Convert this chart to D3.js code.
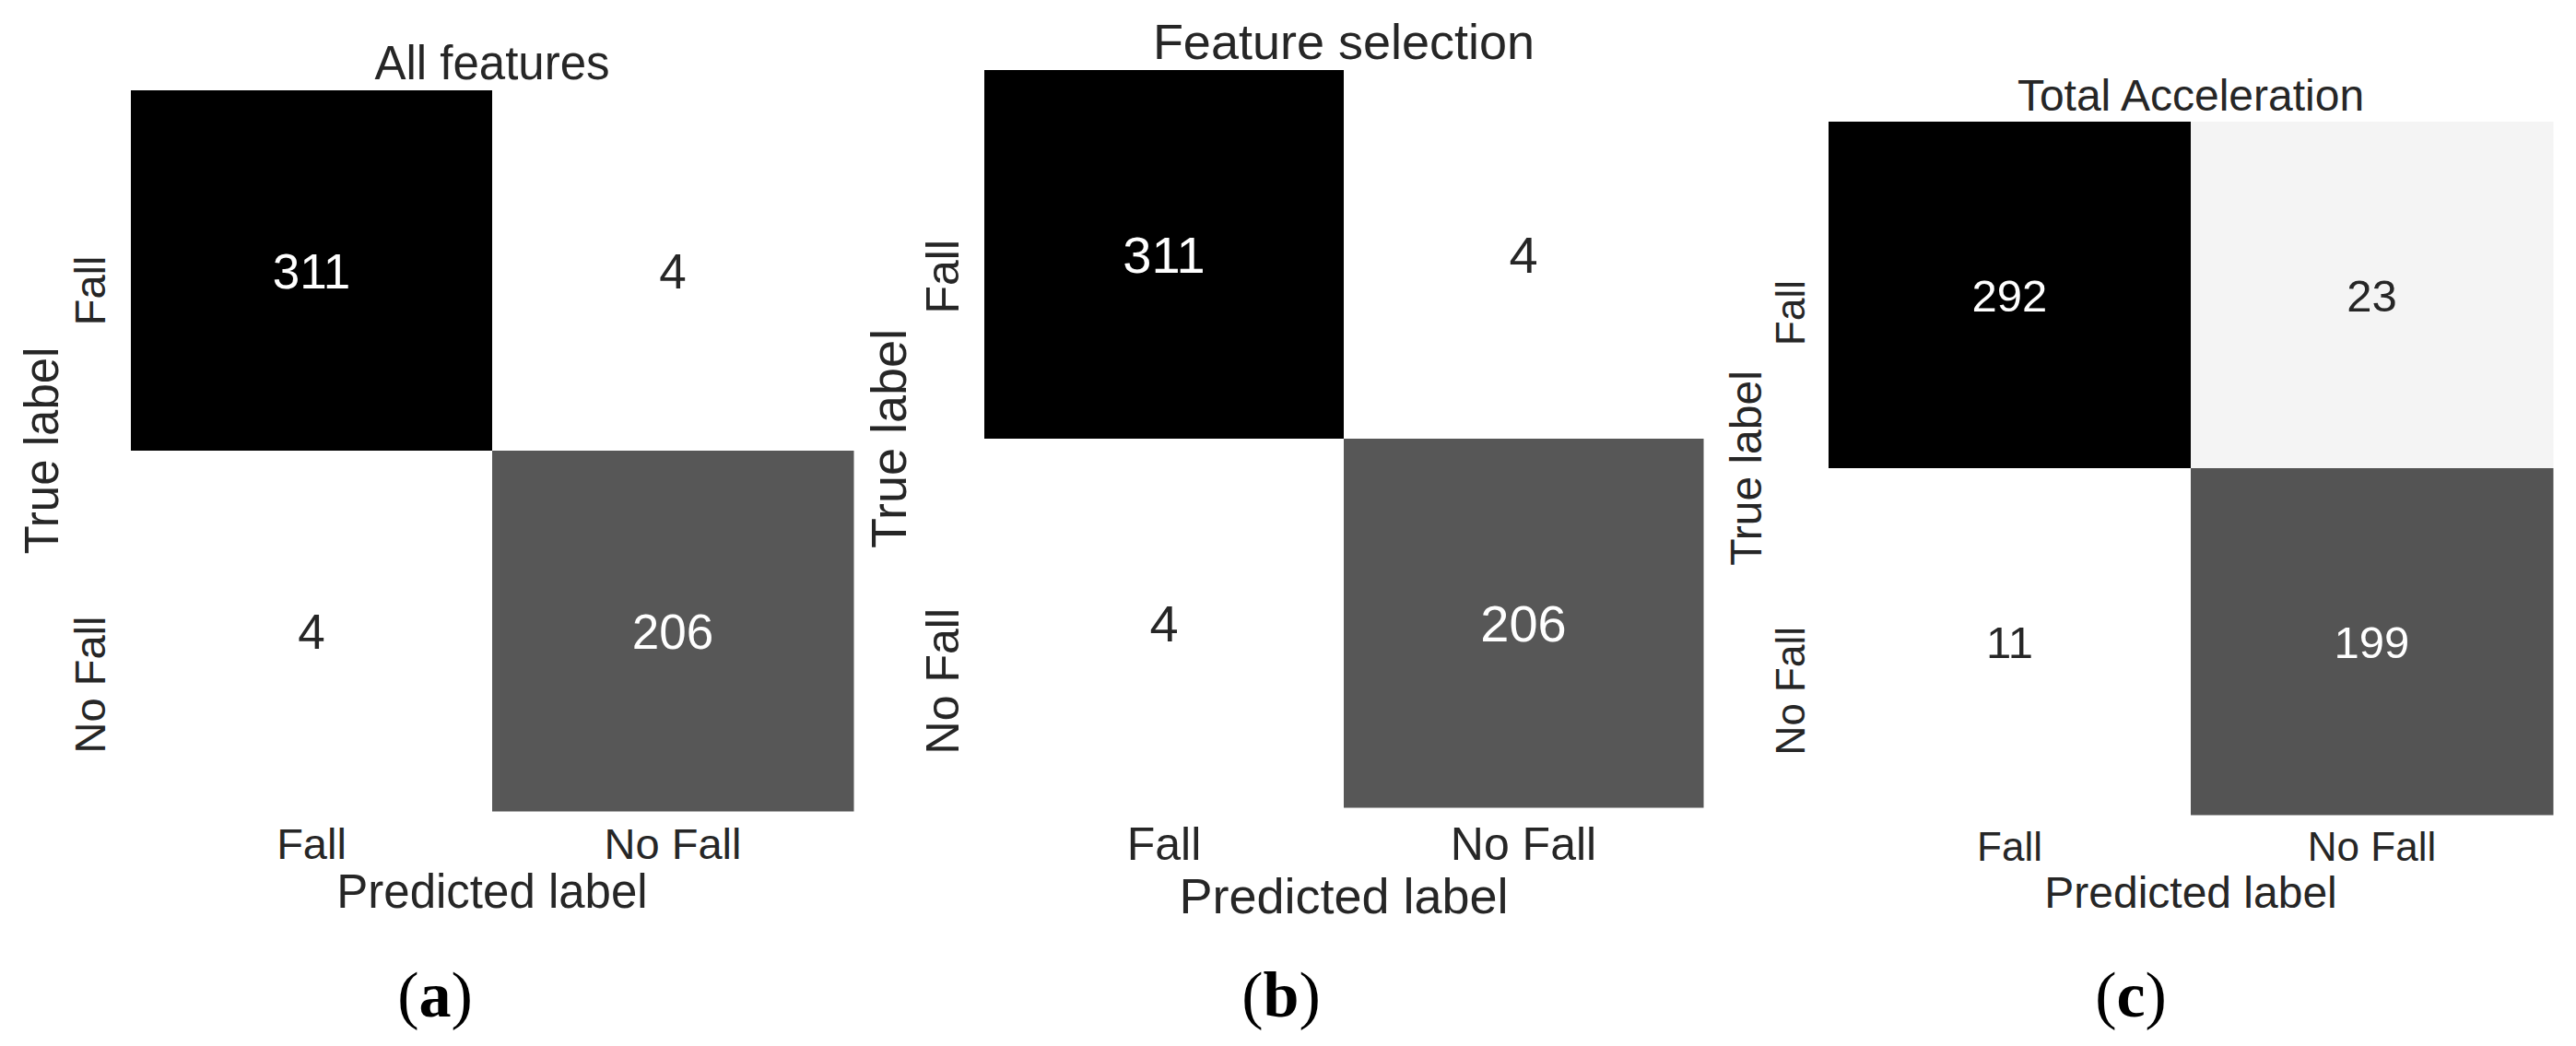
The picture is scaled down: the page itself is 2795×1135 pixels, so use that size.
<!DOCTYPE html>
<html>
<head>
<meta charset="utf-8">
<script src="https://cdn.jsdelivr.net/npm/d3@7"></script>
<style>
  html, body { margin: 0; padding: 0; background: #ffffff; }
  svg { display: block; }
</style>
</head>
<body>
<svg id="chart" width="2795" height="1135"></svg>
<script>
// ---------------- data ----------------
const panelTitles = ["All features", "Feature selection", "Total Acceleration"];
const classLabels = ["Fall", "No Fall"];
const matrixAll = [[311, 4], [4, 206]];
const matrixSelection = [[311, 4], [4, 206]];
const matrixTotalAcc = [[292, 23], [11, 199]];
const captions = ["a", "b", "c"];
const xAxisTitle = "Predicted label";
const yAxisTitle = "True label";

const matrices = [matrixAll, matrixSelection, matrixTotalAcc];

// ---------------- layout (positions / sizes only) ----------------
const layout = [
  {left: 142,  right: 926,  top: 98,  bottom: 880, tick: 47, label: 51, annot: 53,
   titleY: 86,  xtickY: 932, xlabelY: 985, ylabelX: 63,   ytickGap: 28, capX: 472},
  {left: 1068, right: 1848, top: 76,  bottom: 876, tick: 50, label: 54, annot: 56,
   titleY: 64,  xtickY: 933, xlabelY: 991, ylabelX: 983,  ytickGap: 28, capX: 1390},
  {left: 1984, right: 2770, top: 132, bottom: 884, tick: 44, label: 48, annot: 49,
   titleY: 120, xtickY: 934, xlabelY: 985, ylabelX: 1911, ytickGap: 26, capX: 2312}
];
const captionY = 1103;
const sansFont = "'Liberation Sans', Arial, Helvetica, sans-serif";
const serifFont = "'Liberation Serif', 'Times New Roman', serif";
const textDark = "#262626";

const svg = d3.select("#chart");

matrices.forEach((m, pi) => {
  const L = layout[pi];
  const g = svg.append("g");

  const x = d3.scaleBand().domain(classLabels).range([L.left, L.right]).padding(0);
  const y = d3.scaleBand().domain(classLabels).range([L.top, L.bottom]).padding(0);

  const cells = [];
  m.forEach((row, ri) => row.forEach((v, ci) => cells.push({r: classLabels[ri], c: classLabels[ci], v})));
  const vals = cells.map(d => d.v);
  const vmin = d3.min(vals), vmax = d3.max(vals);
  const color = d3.scaleLinear().domain([vmin, vmax]).range(["#ffffff", "#000000"]);

  // cells
  g.selectAll("rect.cell").data(cells).join("rect")
    .attr("class", "cell")
    .attr("x", d => x(d.c))
    .attr("y", d => y(d.r))
    .attr("width", x.bandwidth() + 0.5)
    .attr("height", y.bandwidth() + 0.5)
    .attr("fill", d => color(d.v));

  // annotations
  g.selectAll("text.annot").data(cells).join("text")
    .attr("class", "annot")
    .attr("x", d => x(d.c) + x.bandwidth() / 2)
    .attr("y", d => y(d.r) + y.bandwidth() / 2)
    .attr("dy", "0.36em")
    .attr("text-anchor", "middle")
    .attr("font-family", sansFont)
    .attr("font-size", L.annot)
    .attr("fill", d => (d.v - vmin) / (vmax - vmin) > 0.5 ? "#ffffff" : textDark)
    .text(d => d.v);

  // x axis (bottom)
  const xAxis = g.append("g")
    .attr("transform", `translate(0,${L.bottom})`)
    .call(d3.axisBottom(x).tickSize(0));
  xAxis.select(".domain").remove();
  xAxis.selectAll("text")
    .attr("y", L.xtickY - L.bottom)
    .attr("dy", null)
    .attr("font-family", sansFont)
    .attr("font-size", L.tick)
    .attr("fill", textDark);

  // y axis (left), rotated labels
  const yAxis = g.append("g")
    .attr("transform", `translate(${L.left},0)`)
    .call(d3.axisLeft(y).tickSize(0));
  yAxis.select(".domain").remove();
  yAxis.selectAll("text")
    .attr("x", null)
    .attr("dy", null)
    .attr("transform", `translate(${-L.ytickGap},-16) rotate(-90)`)
    .attr("text-anchor", "end")
    .attr("font-family", sansFont)
    .attr("font-size", L.tick)
    .attr("fill", textDark);

  // title
  g.append("text")
    .attr("x", (L.left + L.right) / 2)
    .attr("y", L.titleY)
    .attr("text-anchor", "middle")
    .attr("font-family", sansFont)
    .attr("font-size", L.label)
    .attr("fill", textDark)
    .text(panelTitles[pi]);

  // x axis title
  g.append("text")
    .attr("x", (L.left + L.right) / 2)
    .attr("y", L.xlabelY)
    .attr("text-anchor", "middle")
    .attr("font-family", sansFont)
    .attr("font-size", L.label)
    .attr("fill", textDark)
    .text(xAxisTitle);

  // y axis title
  g.append("text")
    .attr("transform", `translate(${L.ylabelX},${(L.top + L.bottom) / 2}) rotate(-90)`)
    .attr("text-anchor", "middle")
    .attr("font-family", sansFont)
    .attr("font-size", L.label)
    .attr("fill", textDark)
    .text(yAxisTitle);

  // caption (a), (b), (c)
  const cap = svg.append("text")
    .attr("x", L.capX)
    .attr("y", captionY)
    .attr("text-anchor", "middle")
    .attr("font-family", serifFont)
    .attr("font-size", 70)
    .attr("fill", "#000000");
  cap.append("tspan").text("(");
  cap.append("tspan").attr("font-weight", "bold").text(captions[pi]);
  cap.append("tspan").text(")");
});
</script>
</body>
</html>
